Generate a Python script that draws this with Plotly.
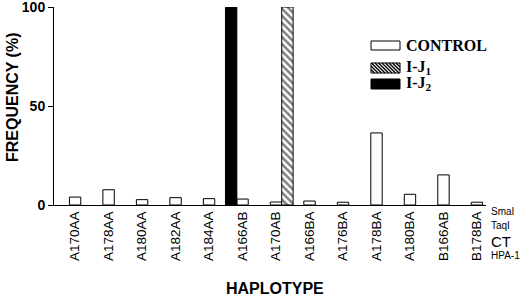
import plotly.graph_objects as go

categories = ["A170AA", "A178AA", "A180AA", "A182AA", "A184AA", "A166AB", "A170AB",
              "A166BA", "A176BA", "A178BA", "A180BA", "B166AB", "B178BA"]
control = [4, 7.7, 2.7, 3.7, 3.2, 3, 1.5, 2, 1.4, 36.4, 5.4, 15.2, 1.4]
ij1_cats = ["A170AB"]
ij1_vals = [100]
ij2_cats = ["A166AB"]
ij2_vals = [100]
yticks = [0, 50, 100]

W, H = 520, 296
L, R, T, B = 54, 486, 7, 205  # plot area in pixels


def px(xp):
    return (xp - L) / (R - L)


def py(yp):
    return (B - yp) / (B - T)


SANS = "Liberation Sans, Arial, sans-serif"
SERIF = "Liberation Serif, Times New Roman, serif"

fig = go.Figure()
fig.add_trace(go.Bar(x=categories, y=control, width=0.34, offset=-0.17,
                     marker=dict(color="white", line=dict(color="black", width=1)),
                     name="CONTROL"))
fig.add_trace(go.Bar(x=ij1_cats, y=ij1_vals, width=0.34, offset=0.17,
                     marker=dict(color="white", line=dict(color="black", width=1),
                                 pattern=dict(shape="\\", fgcolor="black", bgcolor="white",
                                              size=5, solidity=0.5)),
                     name="I-J1"))
fig.add_trace(go.Bar(x=ij2_cats, y=ij2_vals, width=0.34, offset=-0.51,
                     marker=dict(color="black", line=dict(color="black", width=1)),
                     name="I-J2"))

shapes = []
annotations = []

# legend swatches
sw_x0, sw_x1 = 371, 400
rows = [(41, 50, "white", "<b>CONTROL</b>", 45.5),
        (63, 73, "hatch", "<b>I-J<sub>1</sub></b>", 67),
        (79, 89, "black", "<b>I-J<sub>2</sub></b>", 83)]
for y0, y1, kind, label, ty in rows:
    fill = "black" if kind == "black" else "white"
    shapes.append(dict(type="rect", xref="paper", yref="paper",
                       x0=px(sw_x0), x1=px(sw_x1), y0=py(y1), y1=py(y0),
                       fillcolor=fill, line=dict(color="black", width=1)))
    if kind == "hatch":
        segs = []
        h = y1 - y0
        s = sw_x0 - h
        while s < sw_x1:
            xa, ya = s, y0
            xb, yb = s + h, y1
            if xa < sw_x0:
                ya = y0 + (sw_x0 - xa)
                xa = sw_x0
            if xb > sw_x1:
                yb = y1 - (xb - sw_x1)
                xb = sw_x1
            if xb > xa:
                segs.append(f"M{px(xa):.5f},{py(ya):.5f} L{px(xb):.5f},{py(yb):.5f}")
            s += 3.5
        shapes.append(dict(type="path", xref="paper", yref="paper", path=" ".join(segs),
                           line=dict(color="black", width=1.4)))
    annotations.append(dict(xref="paper", yref="paper", x=px(404), y=py(ty),
                            text=label, showarrow=False, xanchor="left", yanchor="middle",
                            font=dict(family=SERIF, size=16, color="black")))

# restriction-site row labels
for text, yy, size in [("SmaI", 212, 10), ("TaqI", 225, 10), ("CT", 241, 15), ("HPA-1", 255, 10)]:
    annotations.append(dict(xref="paper", yref="paper", x=px(489), y=py(yy), text=text,
                            showarrow=False, xanchor="left", yanchor="middle",
                            font=dict(family=SANS, size=size, color="black")))

# axis titles
annotations.append(dict(xref="paper", yref="paper", x=px(275), y=py(288),
                        text="<b>HAPLOTYPE</b>", showarrow=False, xanchor="center",
                        yanchor="middle", font=dict(family=SANS, size=16, color="black")))
annotations.append(dict(xref="paper", yref="paper", x=px(12), y=py(97),
                        text="<b>FREQUENCY (%)</b>", showarrow=False, textangle=-90,
                        xanchor="center", yanchor="middle",
                        font=dict(family=SANS, size=16, color="black")))

fig.update_layout(
    width=W, height=H,
    margin=dict(l=L, r=W - R, t=T, b=H - B, pad=0),
    paper_bgcolor="white", plot_bgcolor="white",
    barmode="overlay", showlegend=False,
    shapes=shapes, annotations=annotations,
    xaxis=dict(type="category", categoryorder="array", categoryarray=categories,
               range=[-0.63, 12.27], showline=True, linecolor="black", linewidth=1,
               ticks="", tickangle=-90, showgrid=False, zeroline=False, automargin=False,
               tickfont=dict(family=SANS, size=13.5, color="black")),
    yaxis=dict(range=[0, 100], tickvals=yticks, showline=True, linecolor="black",
               linewidth=1, ticks="outside", ticklen=5, tickcolor="black",
               showgrid=False, zeroline=False, automargin=False,
               ticklabeloverflow="allow",
               tickfont=dict(family=SANS, size=14, color="black", weight="bold")),
)

fig.write_html("out.html", config={"displayModeBar": False},
               post_script="document.body.style.margin='0px';document.body.style.overflow='hidden';")
